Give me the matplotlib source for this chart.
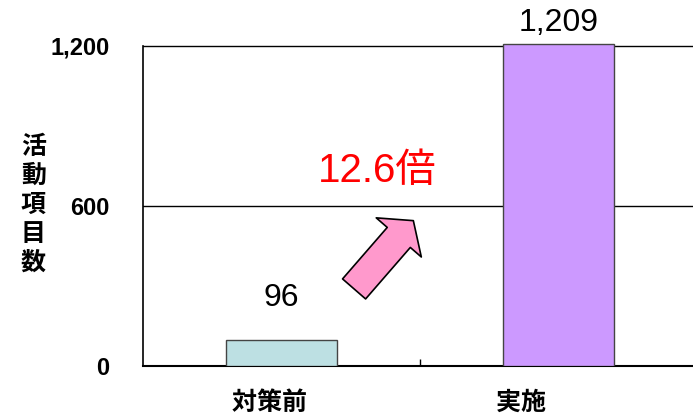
import matplotlib
matplotlib.use("Agg")
import matplotlib.pyplot as plt
from matplotlib.patches import FancyArrowPatch
from matplotlib.ticker import FuncFormatter

plt.rcParams['font.family'] = ['Liberation Sans', 'Noto Sans CJK JP']

categories = ["対策前\u3000", "実施\u3000\u3000\u3000"]
counts = [96, 1209]
bar_colors = ["#bde0e3", "#cc99ff"]
y_ticks = [0, 600, 1200]
ratio_text = "12.6倍"
y_label = "活\n動\n項\n目\n数"

fig = plt.figure(figsize=(6.93, 4.15), dpi=100)
# plot area runs a little past the right edge of the canvas
ax = fig.add_axes([143 / 693, 49 / 415, 554 / 693, 346.7 / 415])

x = range(len(categories))
ax.bar(x, counts, width=0.40, color=bar_colors, edgecolor="#444444", linewidth=1.0, zorder=3)

ax.set_xlim(-0.5, 1.5)
ax.set_ylim(0, 1300)

for y in y_ticks[1:]:
    ax.axhline(y, color="black", linewidth=1.0, zorder=1)

ax.spines["top"].set_visible(False)
ax.spines["right"].set_visible(False)
ax.spines["left"].set_bounds(0, 1200)
ax.spines["left"].set_linewidth(1.2)
ax.spines["bottom"].set_linewidth(1.5)

ax.set_yticks(y_ticks)
ax.yaxis.set_major_formatter(FuncFormatter(lambda v, p: f"{int(v):,}"))
ax.tick_params(axis="y", length=0, pad=24, labelsize=17)
for lab in ax.get_yticklabels():
    lab.set_fontweight("bold")

ax.set_xticks(list(x))
ax.set_xticklabels(categories, fontsize=18, fontweight="bold")
ax.tick_params(axis="x", length=0, pad=18)
ax.set_xticks([0.5], minor=True)
ax.tick_params(axis="x", which="minor", direction="in", length=5, width=1)

ax.set_ylabel(y_label, rotation=0, fontsize=18, fontweight="bold",
              linespacing=1.26, va="center", labelpad=0)
ax.yaxis.set_label_coords(-0.198, 0.465)

# value labels above each bar
label_offsets = [20, 4]
for i, v in enumerate(counts):
    ax.annotate(f"{v:,}", (i, v), xytext=(0, label_offsets[i]), textcoords="offset points",
                ha="center", va="bottom", fontsize=23)

# growth arrow and ratio
arrow = FancyArrowPatch((0.262, 289), (0.476, 545),
                        arrowstyle="simple,head_length=16,head_width=43,tail_width=22",
                        mutation_scale=1, shrinkA=0, shrinkB=0,
                        facecolor="#ff99cc", edgecolor="black", linewidth=1.2, zorder=4)
ax.add_patch(arrow)
ax.text(0.345, 690, ratio_text, color="red", fontsize=29, ha="center", va="baseline")

fig.savefig("out.png", dpi=100)
